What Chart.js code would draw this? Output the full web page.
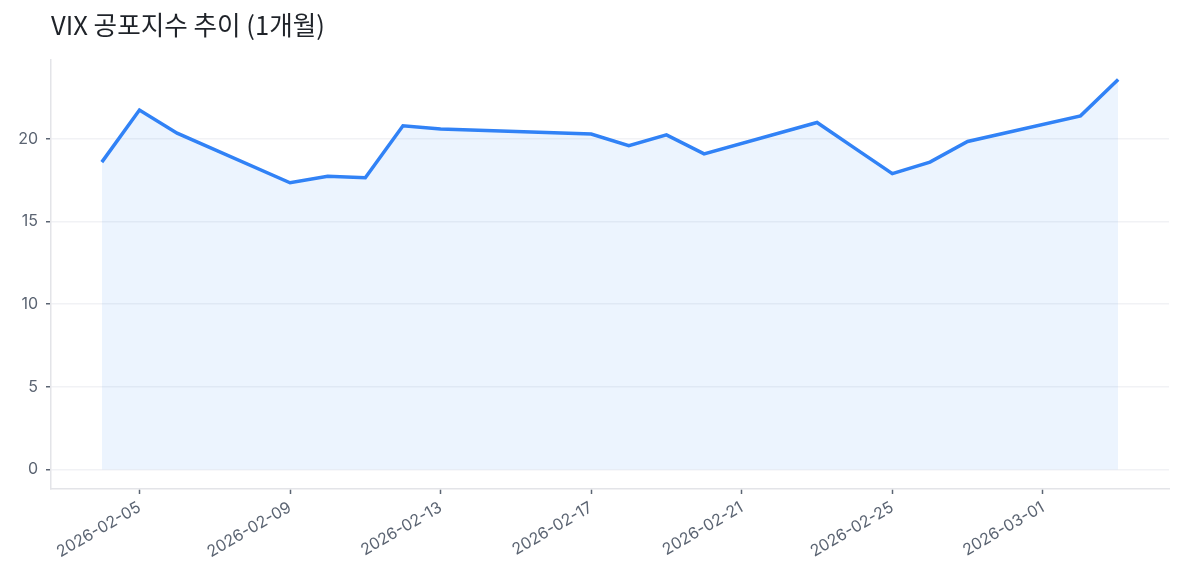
<!DOCTYPE html>
<html>
<head>
<meta charset="utf-8">
<script src="https://cdn.jsdelivr.net/npm/chart.js@4/dist/chart.umd.min.js"></script>
<style>
  body { margin: 0; background: #fff; }
  #wrap { position: relative; width: 1185px; height: 585px; }
  #title {
    position: absolute; left: 51px; top: 6px;
    font-family: "Noto Sans CJK KR", "Noto Sans", sans-serif;
    font-size: 25.6px; line-height: 36px; color: #1f2329; margin: 0; font-weight: 400;
  }
</style>
</head>
<body>
<div id="wrap">
  <h1 id="title">VIX 공포지수 추이 (1개월)</h1>
  <canvas id="myChart" width="1185" height="585"></canvas>
</div>
<script>
const dates = ['2026-02-04', '2026-02-05', '2026-02-06', '2026-02-09', '2026-02-10', '2026-02-11',
    '2026-02-12', '2026-02-13', '2026-02-17', '2026-02-18', '2026-02-19', '2026-02-20',
    '2026-02-23', '2026-02-24', '2026-02-25', '2026-02-26', '2026-02-27', '2026-03-02', '2026-03-03'];
const vix = [18.6, 21.75, 20.35, 17.35, 17.75, 17.65, 20.8, 20.6, 20.3, 19.6, 20.25, 19.1,
    21.0, 19.45, 17.9, 18.6, 19.85, 21.4, 23.6];
const xTickLabels = ['2026-02-05', '2026-02-09', '2026-02-13', '2026-02-17', '2026-02-21', '2026-02-25', '2026-03-01'];
const yTicks = [0, 5, 10, 15, 20];

const DAY = 86400000;
const dayOf = d => (Date.parse(d) - Date.parse(dates[0])) / DAY;

const points = dates.map((d, i) => ({ x: dayOf(d), y: vix[i] }));
const span = dayOf(dates[dates.length - 1]);
const yMax = Math.max(...vix);

const tickFont = { family: "Inter, 'Noto Sans', sans-serif", size: 16 };
const tickColor = '#5b6472';

const ctx = document.getElementById('myChart').getContext('2d');
new Chart(ctx, {
    type: 'line',
    data: {
        datasets: [{
            label: 'VIX',
            data: points,
            borderColor: '#3182f6',
            borderWidth: 3.5,
            backgroundColor: 'rgba(49, 130, 246, 0.09)',
            fill: 'origin',
            pointRadius: 0,
            tension: 0
        }]
    },
    options: {
        responsive: false,
        animation: false,
        layout: { padding: { top: 60, right: 16, left: 0, bottom: 0 } },
        plugins: { legend: { display: false }, tooltip: { enabled: false } },
        scales: {
            x: {
                type: 'linear',
                min: -span * 0.05,
                max: span * 1.05,
                afterBuildTicks: scale => {
                    scale.ticks = xTickLabels.map(d => ({ value: dayOf(d) }));
                },
                afterFit: scale => { scale.height = 96; },
                ticks: {
                    autoSkip: false,
                    minRotation: 30,
                    maxRotation: 30,
                    padding: 4,
                    color: tickColor,
                    font: tickFont,
                    callback: (value, index) => xTickLabels[index]
                },
                grid: {
                    drawOnChartArea: false,
                    drawTicks: true,
                    tickLength: 5,
                    tickWidth: 1.5,
                    tickColor: '#5b6472'
                },
                border: { color: '#e3e4e8', width: 1.5 }
            },
            y: {
                min: -yMax * 0.05,
                max: yMax * 1.05,
                afterBuildTicks: scale => {
                    scale.ticks = yTicks.map(v => ({ value: v }));
                },
                afterFit: scale => { scale.width = 51; },
                ticks: {
                    padding: 8,
                    color: tickColor,
                    font: tickFont
                },
                grid: {
                    color: '#f1f2f5',
                    lineWidth: 1.5,
                    tickLength: 5,
                    tickWidth: 1.5,
                    tickColor: '#5b6472'
                },
                border: { color: '#e3e4e8', width: 1.5 }
            }
        }
    }
});
</script>
</body>
</html>
